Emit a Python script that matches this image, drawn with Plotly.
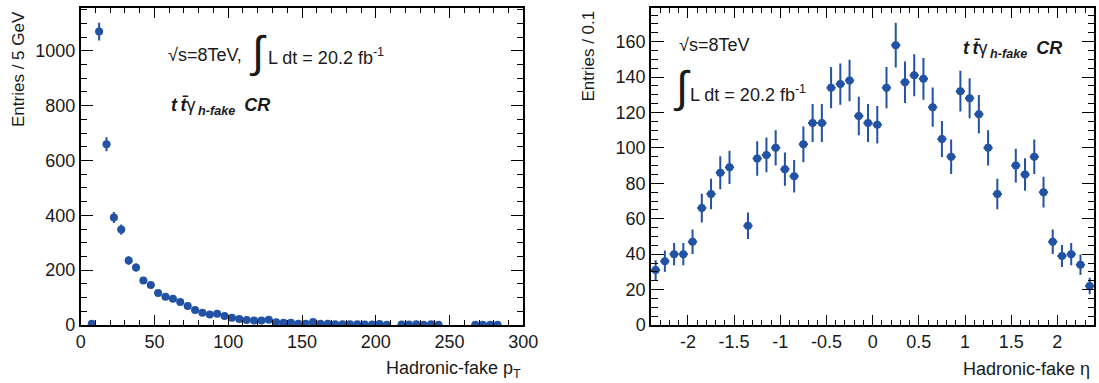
import plotly.graph_objects as go

# ---------------- data ----------------
# Left panel: hadronic-fake pT (bin centres, GeV), entries per 5 GeV, stat. errors
pt_centers = [7.5, 12.5, 17.5, 22.5, 27.5, 32.5, 37.5, 42.5, 47.5, 52.5,
              57.5, 62.5, 67.5, 72.5, 77.5, 82.5, 87.5, 92.5, 97.5, 102.5,
              107.5, 112.5, 117.5, 122.5, 127.5, 132.5, 137.5, 142.5, 147.5, 152.5,
              157.5, 162.5, 167.5, 172.5, 177.5, 182.5, 187.5, 192.5, 197.5, 202.5,
              207.5, 217.5, 222.5, 227.5, 232.5, 237.5, 242.5, 267.5, 272.5, 277.5,
              282.5]
pt_entries = [5, 1070, 659, 392, 348, 235, 210, 162, 146, 117,
              103, 96, 84, 69, 55, 45, 38, 41, 33, 26,
              22, 18, 16, 16, 19, 10, 8, 8, 5, 5,
              11, 5, 5, 3, 3, 3, 3, 2, 2, 4,
              1, 2, 2, 3, 1, 3, 1, 1, 1, 1,
              1]
pt_errors = [2.2, 32.7, 25.7, 19.8, 18.7, 15.3, 14.5, 12.7, 12.1, 10.8,
             10.1, 9.8, 9.2, 8.3, 7.4, 6.7, 6.2, 6.4, 5.7, 5.1,
             4.7, 4.2, 4.0, 4.0, 4.4, 3.2, 2.8, 2.8, 2.2, 2.2,
             3.3, 2.2, 2.2, 1.7, 1.7, 1.7, 1.7, 1.4, 1.4, 2.0,
             1.0, 1.4, 1.4, 1.7, 1.0, 1.7, 1.0, 1.0, 1.0, 1.0,
             1.0]

# Right panel: hadronic-fake eta (bin centres), entries per 0.1, stat. errors
eta_centers = [-2.35, -2.25, -2.15, -2.05, -1.95, -1.85, -1.75, -1.65, -1.55, -1.35,
               -1.25, -1.15, -1.05, -0.95, -0.85, -0.75, -0.65, -0.55, -0.45, -0.35,
               -0.25, -0.15, -0.05, 0.05, 0.15, 0.25, 0.35, 0.45, 0.55, 0.65,
               0.75, 0.85, 0.95, 1.05, 1.15, 1.25, 1.35, 1.55, 1.65, 1.75,
               1.85, 1.95, 2.05, 2.15, 2.25, 2.35]
eta_entries = [31, 36, 40, 40, 47, 66, 74, 86, 89, 56,
               94, 96, 100, 88, 84, 102, 114, 114, 134, 136,
               138, 118, 114, 113, 134, 158, 137, 141, 139, 123,
               105, 95, 132, 128, 119, 100, 74, 90, 85, 95,
               75, 47, 39, 40, 34, 22]
eta_errors = [5.6, 6.0, 6.3, 6.3, 6.9, 8.1, 8.6, 9.3, 9.4, 7.5,
              9.7, 9.8, 10.0, 9.4, 9.2, 10.1, 10.7, 10.7, 11.6, 11.7,
              11.7, 10.9, 10.7, 10.6, 11.6, 12.6, 11.7, 11.9, 11.8, 11.1,
              10.2, 9.7, 11.5, 11.3, 10.9, 10.0, 8.6, 9.5, 9.2, 9.7,
              8.7, 6.9, 6.2, 6.3, 5.8, 4.7]

eta_tick_vals = [-2, -1.5, -1, -0.5, 0, 0.5, 1, 1.5, 2]
eta_tick_text = ["-2", "-1.5", "-1", "-0.5", "0", "0.5", "1", "1.5", "2"]

pt_half_bin = 2.5
eta_half_bin = 0.05

# ---------------- style ----------------
W, H = 1099, 383
BLUE = "#2152a3"
FONT = "Liberation Sans, Arial, Helvetica, sans-serif"
TXT = "#1a1a1a"


def px_x(p):
    return p / W


def px_y(p):
    return 1 - p / H


fig = go.Figure()

fig.add_trace(go.Scatter(
    x=pt_centers, y=pt_entries, mode="markers",
    marker=dict(color=BLUE, size=8, symbol="circle"),
    error_y=dict(type="data", array=pt_errors, color=BLUE, thickness=2, width=0),
    error_x=dict(type="constant", value=pt_half_bin, color=BLUE, thickness=2, width=0),
    xaxis="x", yaxis="y", showlegend=False, cliponaxis=True,
))

fig.add_trace(go.Scatter(
    x=eta_centers, y=eta_entries, mode="markers",
    marker=dict(color=BLUE, size=8, symbol="circle"),
    error_y=dict(type="data", array=eta_errors, color=BLUE, thickness=2, width=0),
    error_x=dict(type="constant", value=eta_half_bin, color=BLUE, thickness=2, width=0),
    xaxis="x2", yaxis="y2", showlegend=False, cliponaxis=True,
))

common_axis = dict(
    showline=True, linecolor="black", linewidth=1.5, mirror="allticks",
    ticks="inside", tickcolor="black", tickwidth=1.2,
    showgrid=False, zeroline=False, automargin=False,
    tickfont=dict(family=FONT, size=18, color=TXT),
)

ydom = [px_y(325), px_y(8.3)]


def minor(dt, ln):
    return dict(tickmode="linear", tick0=0, dtick=dt, ticklen=ln, ticks="inside",
                tickcolor="black", tickwidth=1.2)


fig.update_layout(
    width=W, height=H,
    margin=dict(l=0, r=0, t=0, b=0),
    paper_bgcolor="white", plot_bgcolor="white",
    xaxis=dict(domain=[px_x(80.7), px_x(523.3)], range=[0, 300], anchor="y",
               tick0=0, dtick=50, ticklen=10, minor=minor(10, 5), **common_axis),
    yaxis=dict(domain=ydom, range=[0, 1155], anchor="x",
               tick0=0, dtick=200, ticklen=13, minor=minor(50, 7), **common_axis),
    xaxis2=dict(domain=[px_x(651), px_x(1094.3)], range=[-2.4, 2.4], anchor="y2",
                tickmode="array", tickvals=eta_tick_vals, ticktext=eta_tick_text,
                ticklen=10, minor=minor(0.1, 5), **common_axis),
    yaxis2=dict(domain=ydom, range=[0, 178.8], anchor="x2",
                tick0=0, dtick=20, ticklen=13, minor=minor(5, 7), **common_axis),
)

ann = []


def text(x, y, s, size=18, xanchor="left", yanchor="middle", angle=0):
    ann.append(dict(
        xref="paper", yref="paper", x=px_x(x), y=px_y(y), text=s,
        showarrow=False, xanchor=xanchor, yanchor=yanchor, textangle=angle,
        font=dict(family=FONT, size=size, color=TXT),
    ))


LABEL = ("<b><i>t\u2009t̄</i></b>γ<sub><b><i>\u2009h-fake</i></b></sub>"
         "\u2002<b><i>CR</i></b>")

# axis titles
text(523, 369, "Hadronic-fake p<sub>T</sub>", size=18, xanchor="right")
text(1092, 369, "Hadronic-fake η", size=18, xanchor="right")
text(18, 9, "Entries / 5 GeV", size=17, xanchor="center", yanchor="top", angle=-90)
text(588, 9, "Entries / 0.1", size=17, xanchor="center", yanchor="top", angle=-90)

# left panel labels
text(166, 55, "√s=8TeV,", size=18)
text(258, 52, "∫", size=44, xanchor="center")
text(266, 56, "L dt = 20.2 fb<sup>-1</sup>", size=18)
text(169, 107, LABEL, size=18)

# right panel labels
text(677, 45, "√s=8TeV", size=18)
text(682, 87, "∫", size=44, xanchor="center")
text(688, 93, "L dt = 20.2 fb<sup>-1</sup>", size=18)
text(961, 50, LABEL, size=18)

fig.update_layout(annotations=ann)

fig.write_html("out.html")
